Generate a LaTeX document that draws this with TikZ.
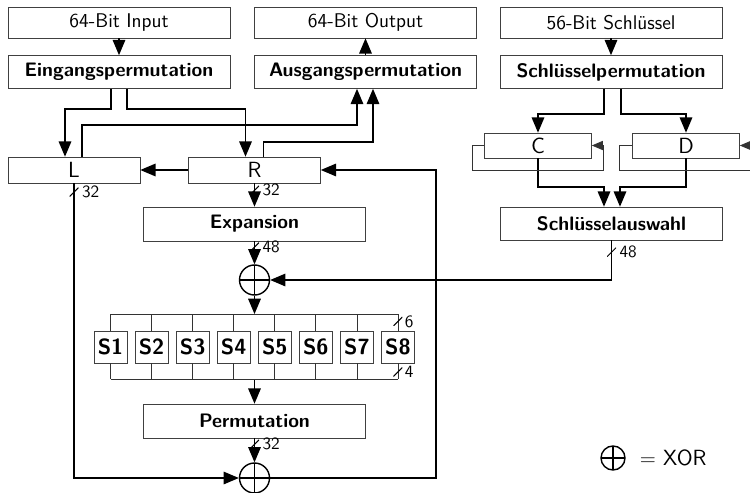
\documentclass[tikz,border=0pt]{standalone}
\usepackage{tikz}
\usetikzlibrary{shapes,arrows,shapes.geometric}

\begin{document}
\begin{tikzpicture}[
	x=0.02cm, y=-0.02cm, font=\sffamily\fontsize{11.3}{13}\selectfont, >=triangle 45, node distance=0.8214cm,
	box/.style={draw=black!75, minimum height=0.62cm, inner sep=0pt},
	wide/.style={box, minimum width=4.44cm},
	boldwide/.style={wide, font=\sffamily\bfseries\fontsize{11.1}{13}\selectfont, minimum height=0.66cm},
	reg/.style={box, minimum width=2.64cm, minimum height=0.52cm, font=\sffamily\fontsize{12.5}{14}\selectfont},
	half/.style={box, minimum width=2.14cm, minimum height=0.5cm, font=\sffamily\fontsize{12.5}{14}\selectfont},
	sbox/.style={box, minimum width=0.66cm, minimum height=0.64cm, font=\sffamily\bfseries\fontsize{12.5}{14}\selectfont},
	xor/.style={circle, draw, thick, minimum size=0.6cm, inner sep=0pt,
		path picture={\draw[-, thick] (path picture bounding box.north) -- (path picture bounding box.south)
			(path picture bounding box.west) -- (path picture bounding box.east);}},
	bits/.style={inner sep=0pt, minimum size=0.18cm,
		path picture={\draw[-, semithick, black] (path picture bounding box.south west) -- (path picture bounding box.north east);},
		label={[font=\sffamily\fontsize{9.8}{11}\selectfont, inner sep=1pt]east:#1}},
	conn/.style={line width=1pt, ->},
	thinconn/.style={draw=black!80, ->}
	]
	\useasboundingbox (0,0) rectangle (750,493);

	% upper row
	\node [wide,name=input] at (119,22.5) {64-Bit Input};
	\node [boldwide,name=inperm] at (119,72) {Eingangspermutation};
	\node [wide,name=output] at (365.5,22.5) {64-Bit Output};
	\node [boldwide,name=outperm] at (365.5,72) {Ausgangspermutation};
	\node [wide,name=key] at (611,22.5) {56-Bit Schlüssel};
	\node [boldwide,name=keyperm] at (611,72) {Schlüsselpermutation};

	% halves
	\node [reg,name=L] at (74,170) {L};
	\node [reg,name=R] at (254.5,170) {R};
	\node [half,name=C] at (538,145.5) {C};
	\node [half,name=D] at (686,145.5) {D};
	\node [boldwide,name=keysel] at (611.5,223.5) {Schlüsselauswahl};

	% round function
	\node [boldwide,minimum height=0.68cm,name=exp] at (254.5,224) {Expansion};
	\node [xor,name=xor1] at (254.5,280) {};
	\node [sbox,name=S1] at (110.5,347) {S1};
	\foreach \i [count=\j] in {2,...,8}
		\node [sbox,name=S\i,right of=S\j] {S\i};
	\coordinate (bustop) at (254.5,314);
	\coordinate (busbot) at (254.5,379);
	\coordinate (loop) at (436,170);
	\node [boldwide,minimum height=0.68cm,name=perm] at (254.5,421) {Permutation};
	\node [xor,name=xor2] at (254.5,478) {};

	% legend
	\node [xor,minimum size=0.48cm,name=legend] at (613,458) {};
	\node [anchor=west,font=\sffamily\fontsize{12.5}{14}\selectfont,name=xortext] at ([xshift=0.16cm]legend.east) {$=$ XOR};

	% data path
	\draw [conn] (input) -- (inperm);
	\draw [conn] (outperm) -- (output);
	\draw [conn] (key) -- (keyperm);
	\draw [conn] ([xshift=-0.16cm]inperm.south) -- ++(0,20) -| ([xshift=-0.18cm]L.north);
	\draw [conn] ([xshift=0.16cm]inperm.south) -- ++(0,20) -| ([xshift=-0.18cm]R.north);
	\draw [conn] ([xshift=0.16cm]L.north) -- ++(0,-32) -| ([xshift=-0.17cm]outperm.south);
	\draw [conn] ([xshift=0.18cm]R.north) -- ++(0,-15) -| ([xshift=0.15cm]outperm.south);
	\draw [conn] (R) -- (L);
	\draw [conn] (L) |- node[bits=32,pos=0.015]{} (xor2);
	\draw [conn] (xor2) -| (loop) -- (R);
	\draw [conn] (R) -- node[bits=32,pos=0.3]{} (exp);
	\draw [conn] (exp) -- node[bits=48,pos=0.25]{} (xor1);
	\draw [conn] (keysel) |- node[bits=48,pos=0.15]{} (xor1);
	\draw [conn] (xor1) -- (bustop);
	\draw [conn] (busbot) -- (perm);
	\draw [conn] (perm) -- node[bits=32,pos=0.25]{} (xor2);

	% s-box bus
	\draw [draw=black!80] (S1.north |- bustop) -- (S8.north |- bustop);
	\draw [draw=black!80] (S1.south |- busbot) -- (S8.south |- busbot);
	\foreach \i in {1,...,7} {
		\draw [draw=black!80] (S\i.north |- bustop) -- (S\i.north);
		\draw [draw=black!80] (S\i.south) -- (S\i.south |- busbot);
	}
	\draw [draw=black!80] (S8.north |- bustop) -- node[bits=6,pos=0.45]{} (S8.north);
	\draw [draw=black!80] (S8.south) -- node[bits=4,pos=0.55]{} (S8.south |- busbot);

	% key schedule
	\draw [conn] ([xshift=-0.14cm]keyperm.south) -- ++(0,25) -| (C);
	\draw [conn] ([xshift=0.2cm]keyperm.south) -- ++(0,25) -| (D);
	\draw [conn] (C.south) -- ++(0,29) -| ([xshift=-0.15cm]keysel.north);
	\draw [conn] (D.south) -- ++(0,29) -| ([xshift=0.17cm]keysel.north);
	\draw [thinconn] (C.west) -- ++(-12,0) |- ([xshift=0.24cm,yshift=-0.49cm]C.east) |- (C.east);
	\draw [thinconn] (D.west) -- ++(-13,0) |- ([xshift=0.5cm,yshift=-0.49cm]D.east) |- (D.east);
\end{tikzpicture}
\end{document}
